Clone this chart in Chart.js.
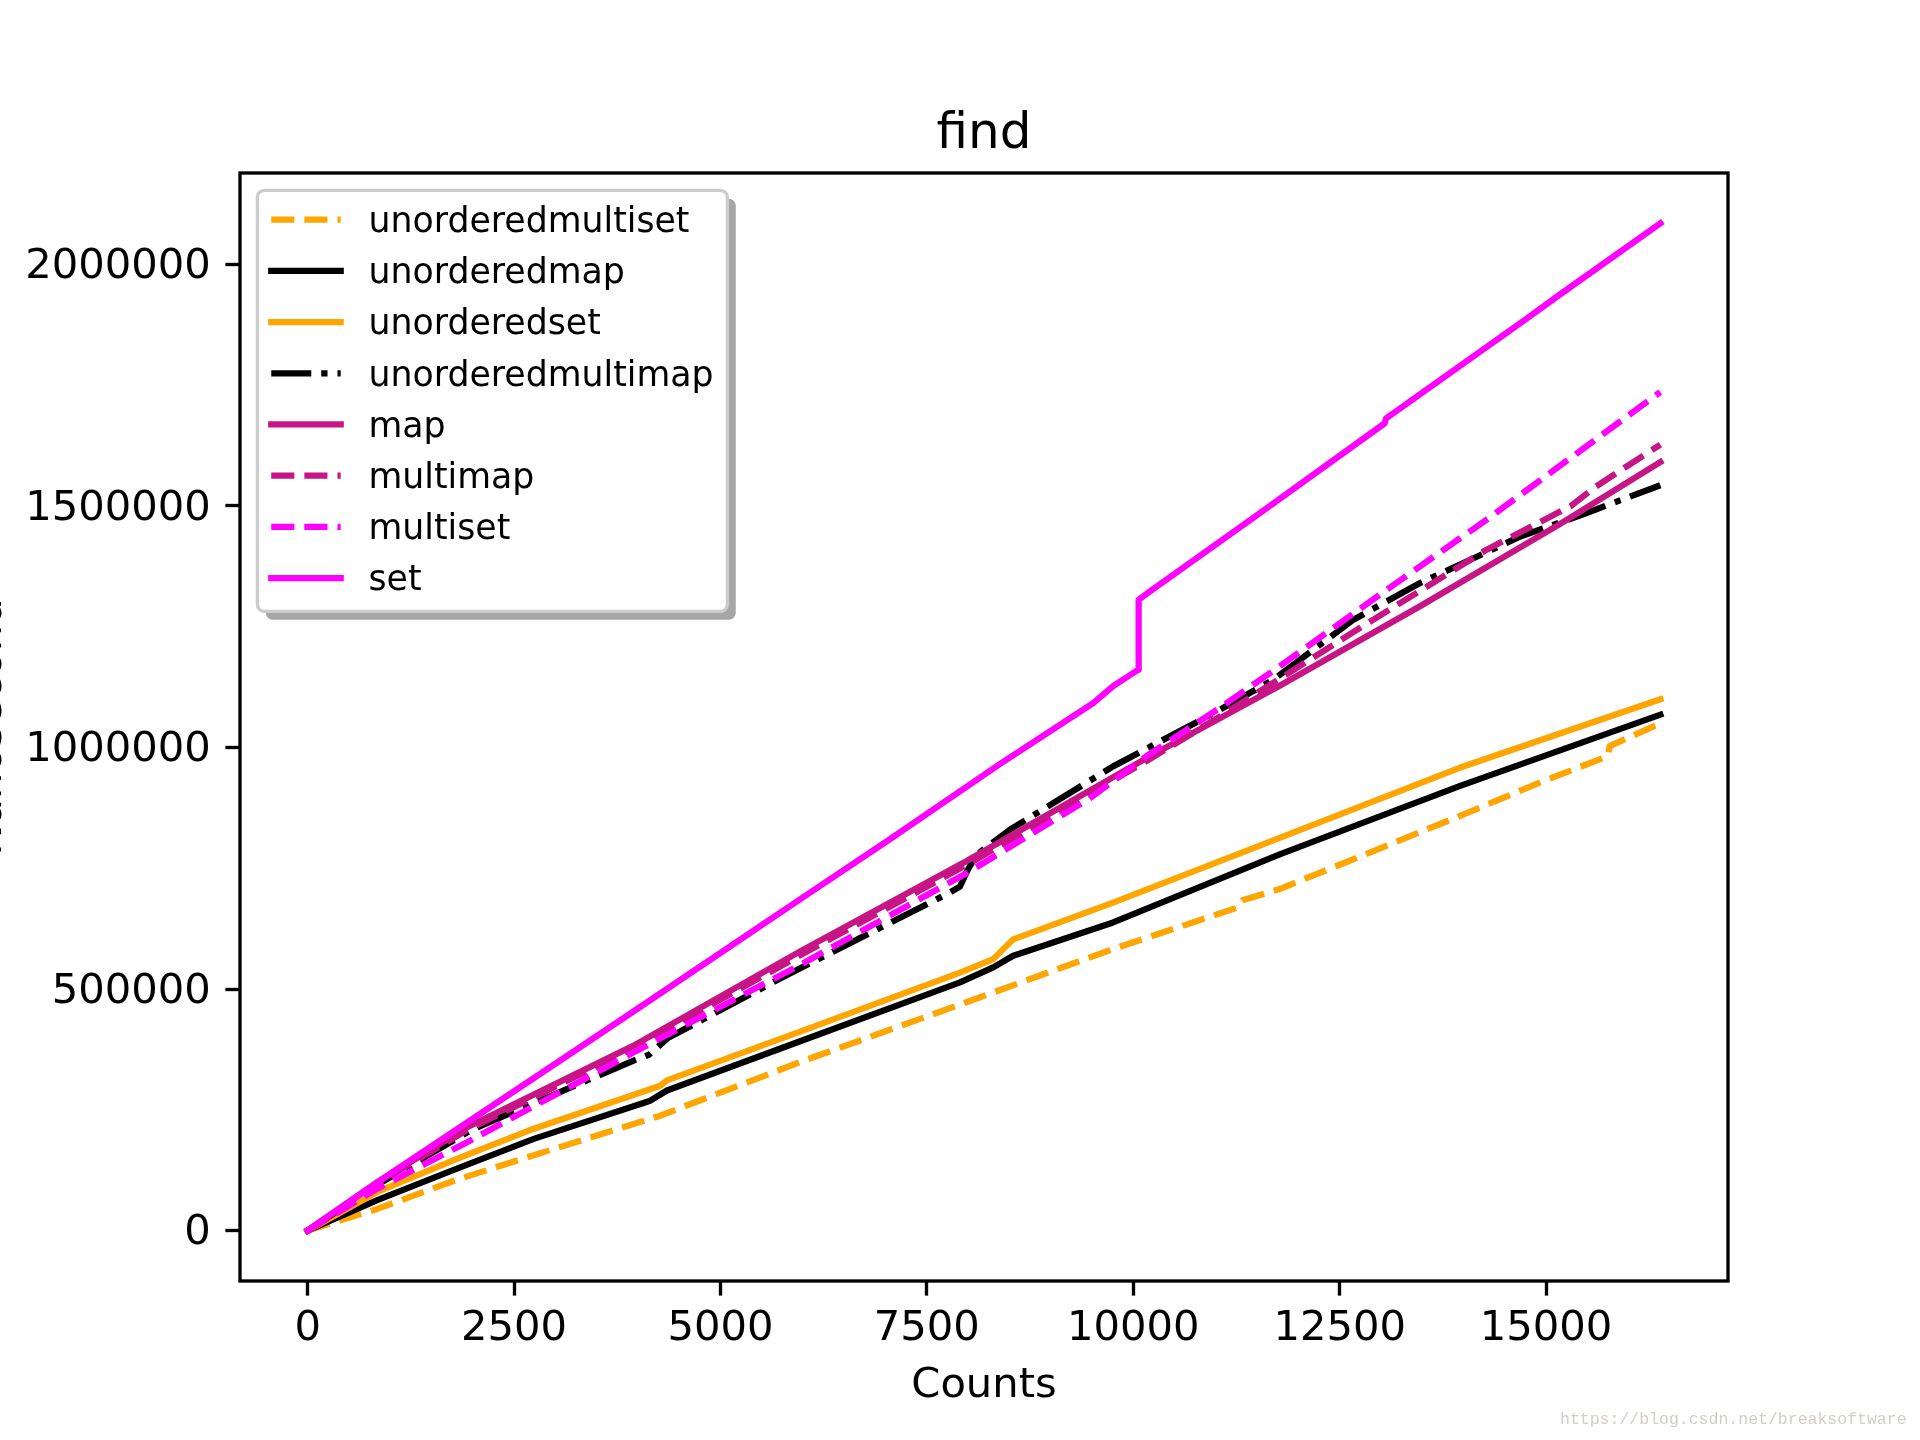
<!DOCTYPE html>
<html><head><meta charset="utf-8">
<script src="https://cdn.jsdelivr.net/npm/chart.js@4.4.1/dist/chart.umd.min.js"></script>
<style>html,body{margin:0;padding:0;background:#fff;}canvas{display:block;}</style>
</head><body>
<canvas id="c" width="1920" height="1440"></canvas>
<script>
const titleText = 'find';
const xTitle = 'Counts';
const yTitle = 'Nanosecond';
const xTickValues = [0, 2500, 5000, 7500, 10000, 12500, 15000];
const yTickValues = [0, 500000, 1000000, 1500000, 2000000];
const seriesLabels = ['unorderedmultiset','unorderedmap','unorderedset','unorderedmultimap','map','multimap','multiset','set'];

const unorderedmultisetCounts = [0, 843, 1800, 2739, 4271, 5965, 7900, 9756, 11250, 11320, 11773, 13951, 14960, 15746, 15770, 16384];
const unorderedmultisetNs     = [0, 45000, 105000, 156000, 238000, 349000, 468000, 583000, 668000, 684000, 707000, 858000, 930000, 982000, 1003000, 1050000];

const unorderedmapCounts = [0, 843, 1800, 2739, 4150, 4352, 5965, 7901, 8304, 8546, 9756, 11773, 13951, 16384];
const unorderedmapNs     = [0, 63000, 128000, 190000, 269000, 290000, 392000, 514000, 545000, 569000, 638000, 779000, 920000, 1068000];

const unorderedsetCounts = [0, 843, 1800, 2739, 4271, 4352, 5965, 7901, 8304, 8546, 9756, 11773, 13951, 16384];
const unorderedsetNs     = [0, 80000, 148000, 211000, 300000, 311000, 412000, 534000, 562000, 603000, 679000, 813000, 958000, 1100000];

const unorderedmultimapCounts = [0, 843, 2000, 3948, 4135, 4357, 5723, 7780, 7900, 7990, 8100, 8506, 9756, 11047, 11692, 12660, 13467, 14677, 15484, 16384];
const unorderedmultimapNs     = [0, 95000, 210000, 352000, 364000, 398000, 522000, 700000, 712000, 745000, 778000, 830000, 961000, 1078000, 1140000, 1264000, 1340000, 1436000, 1485000, 1543000];

const mapCounts = [0, 843, 1932, 3948, 5965, 7982, 10160, 11773, 13467, 15161, 16384];
const mapNs     = [0, 100000, 214000, 383000, 578000, 765000, 978000, 1128000, 1292000, 1462000, 1591000];

const multimapCounts = [0, 843, 1932, 3948, 5965, 7982, 10160, 11047, 12741, 14274, 15300, 15600, 16384];
const multimapNs     = [0, 98000, 208000, 378000, 570000, 757000, 972000, 1064000, 1247000, 1409000, 1500000, 1540000, 1627000];

const multisetCounts = [0, 843, 1932, 3948, 5965, 7982, 9474, 10160, 11047, 11773, 13064, 14274, 16384];
const multisetNs     = [0, 87000, 183000, 369000, 550000, 740000, 895000, 982000, 1082000, 1168000, 1326000, 1471000, 1736000];

const setCounts = [0, 843, 1811, 2980, 3948, 5037, 5965, 7000, 8385, 9514, 9756, 10059, 10065, 10200, 11531, 13044, 13060, 14758, 15161, 16384];
const setNs     = [0, 100000, 210000, 343000, 454000, 579000, 686000, 804000, 966000, 1092000, 1127000, 1161000, 1306000, 1323000, 1485000, 1671000, 1681000, 1887000, 1937000, 2085000];

const watermark = 'https://blog.csdn.net/breaksoftware';

// ---- styling ----
const ORANGE = '#ffa500', BLACK = '#000000', VIOLET = '#c71585', MAGENTA = '#ff00ff';
const LW = 6.25;
const DASHED = [23.1, 10];
const DASHDOT = [40, 10, 6.25, 10];
const FONT = '"DejaVu Sans", "Liberation Sans", sans-serif';

const seriesData = [
  [unorderedmultisetCounts, unorderedmultisetNs, ORANGE, DASHED],
  [unorderedmapCounts, unorderedmapNs, BLACK, []],
  [unorderedsetCounts, unorderedsetNs, ORANGE, []],
  [unorderedmultimapCounts, unorderedmultimapNs, BLACK, DASHDOT],
  [mapCounts, mapNs, VIOLET, []],
  [multimapCounts, multimapNs, VIOLET, DASHED],
  [multisetCounts, multisetNs, MAGENTA, DASHED],
  [setCounts, setNs, MAGENTA, []]
];

const datasets = seriesData.map((s, i) => ({
  label: seriesLabels[i],
  data: s[0].map((c, j) => ({x: c, y: s[1][j]})),
  borderColor: s[2],
  backgroundColor: s[2],
  borderWidth: LW,
  borderDash: s[3],
  borderCapStyle: s[3].length ? 'butt' : 'square',
  borderJoinStyle: 'round',
  pointRadius: 0,
  pointHoverRadius: 0,
  tension: 0,
  fill: false,
  order: -i
}));

const allX = seriesData.flatMap(s => s[0]);
const allY = seriesData.flatMap(s => s[1]);
const xLo = Math.min(...allX), xHi = Math.max(...allX);
const yLo = Math.min(...allY), yHi = Math.max(...allY);
const xMargin = 0.05 * (xHi - xLo), yMargin = 0.05 * (yHi - yLo);

function roundRect(ctx, x, y, w, h, r) {
  ctx.beginPath();
  ctx.moveTo(x + r, y);
  ctx.arcTo(x + w, y, x + w, y + h, r);
  ctx.arcTo(x + w, y + h, x, y + h, r);
  ctx.arcTo(x, y + h, x, y, r);
  ctx.arcTo(x, y, x + w, y, r);
  ctx.closePath();
}

const framePlugin = {
  id: 'frameAndLegend',
  afterDatasetsDraw(chart) {
    const {ctx, chartArea: a} = chart;
    ctx.save();
    ctx.strokeStyle = '#000';
    ctx.lineWidth = 3.33;
    ctx.strokeRect(a.left, a.top, a.right - a.left, a.bottom - a.top);

    // legend
    const fs = 34.72;
    ctx.font = fs + 'px ' + FONT;
    const ds = chart.data.datasets;
    const maxW = Math.max(...ds.map(d => ctx.measureText(d.label).width));
    const pad = 0.4 * fs, hl = 2 * fs, htp = 0.8 * fs, pitch = 51.2;
    const bx = a.left + 0.5 * fs, by = a.top + 0.5 * fs;
    const bw = pad + hl + htp + maxW + pad;
    const bh = 421;
    roundRect(ctx, bx + 8.33, by + 8.33, bw, bh, 7);
    ctx.fillStyle = '#a6a6a6';
    ctx.fill();
    roundRect(ctx, bx, by, bw, bh, 7);
    ctx.fillStyle = '#ffffff';
    ctx.fill();
    ctx.strokeStyle = '#cccccc';
    ctx.lineWidth = 3.33;
    ctx.stroke();
    ds.forEach((d, k) => {
      const y = by + 29.3 + k * pitch;
      ctx.beginPath();
      ctx.setLineDash(d.borderDash || []);
      ctx.lineCap = d.borderCapStyle;
      ctx.strokeStyle = d.borderColor;
      ctx.lineWidth = LW;
      ctx.moveTo(bx + pad, y);
      ctx.lineTo(bx + pad + hl, y);
      ctx.stroke();
      ctx.setLineDash([]);
      ctx.fillStyle = '#000';
      ctx.textAlign = 'left';
      ctx.textBaseline = 'middle';
      ctx.fillText(d.label, bx + pad + hl + htp, y + 3.4);
    });
    ctx.restore();
  },
  afterDraw(chart) {
    const ctx = chart.ctx;
    ctx.save();
    ctx.font = '16.5px "Liberation Mono", "DejaVu Sans Mono", monospace';
    ctx.fillStyle = '#d2cdc8';
    ctx.textAlign = 'left';
    ctx.textBaseline = 'middle';
    ctx.fillText(watermark, 1560, 1420);
    ctx.restore();
  }
};

new Chart(document.getElementById('c'), {
  type: 'line',
  data: {datasets},
  options: {
    responsive: false,
    devicePixelRatio: 1,
    animation: false,
    events: [],
    layout: {padding: {left: 0, right: 192, top: 0, bottom: 0}},
    plugins: {
      legend: {display: false},
      tooltip: {enabled: false},
      title: {
        display: true, text: titleText, fullSize: false,
        color: '#000', font: {family: FONT, size: 50, weight: 'normal', lineHeight: 1.2},
        padding: {top: 105.5, bottom: 7.5}
      }
    },
    scales: {
      x: {
        type: 'linear',
        min: xLo - xMargin, max: xHi + xMargin,
        afterFit(s) { s.height = 159; },
        afterBuildTicks(s) { s.ticks = xTickValues.map(v => ({value: v})); },
        border: {display: false},
        grid: {display: true, drawOnChartArea: false, drawTicks: true, tickLength: 14.6, tickWidth: 3.33, tickColor: '#000'},
        ticks: {color: '#000', font: {family: FONT, size: 41.67}, padding: 9, maxRotation: 0, autoSkip: false,
                callback: v => String(v)},
        title: {display: true, text: xTitle, color: '#000', font: {family: FONT, size: 41.67, lineHeight: 1.2},
                padding: {top: 0, bottom: 28.8}}
      },
      y: {
        type: 'linear',
        min: yLo - yMargin, max: yHi + yMargin,
        afterFit(s) { s.width = 240; },
        afterBuildTicks(s) { s.ticks = yTickValues.map(v => ({value: v})); },
        border: {display: false},
        grid: {display: true, drawOnChartArea: false, drawTicks: true, tickLength: 14.6, tickWidth: 3.33, tickColor: '#000'},
        ticks: {color: '#000', font: {family: FONT, size: 41.67, lineHeight: '5.5px'}, padding: 14.6, autoSkip: false,
                callback: v => ['', String(v)]},
        title: {display: true, text: yTitle, color: '#000', font: {family: FONT, size: 41.67, lineHeight: 1.2},
                padding: {top: -35, bottom: 0}}
      }
    }
  },
  plugins: [framePlugin]
});
</script>
</body></html>
